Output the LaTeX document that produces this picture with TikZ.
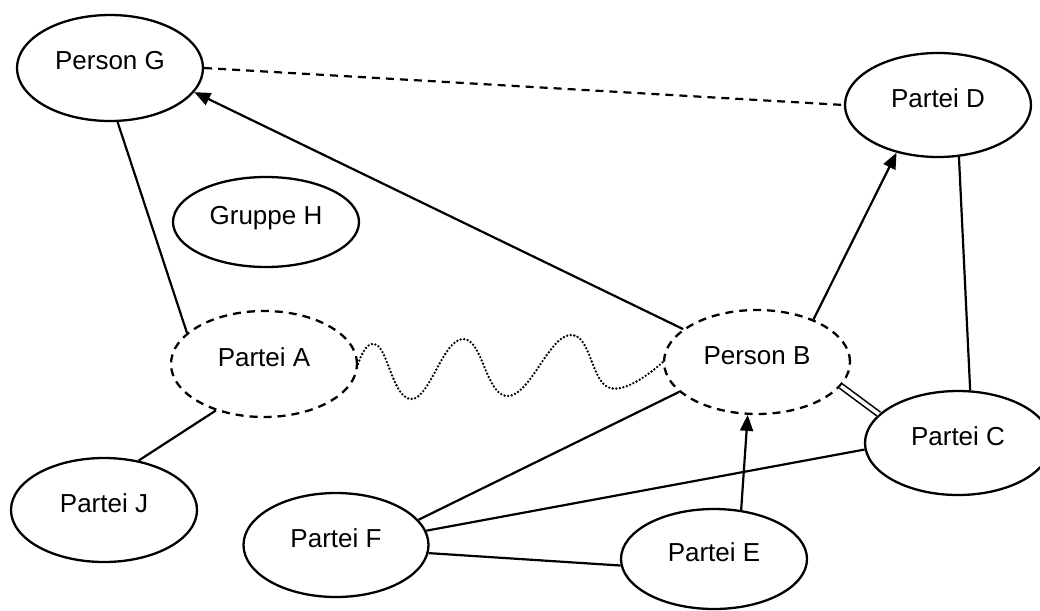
\documentclass[tikz,border=0pt]{standalone}
\usepackage{fontspec}
\setmainfont{Liberation Sans}
\usetikzlibrary{shapes.geometric,arrows.meta}
\begin{document}
\begin{tikzpicture}[x=1pt,y=-1pt,
  ent/.style={ellipse,draw=black,line width=2.3pt,inner sep=0pt,
    minimum width=186pt,minimum height=104pt,
    font=\fontsize{26}{31}\selectfont,text height=18pt,text depth=14pt},
  dashent/.style={ent,dash pattern=on 8pt off 6pt},
  conn/.style={draw=black,line width=2.2pt},
  arr/.style={conn,-{Triangle[length=16pt,width=13pt]}},
  dashconn/.style={conn,dash pattern=on 8pt off 6pt},
  dbl/.style={draw=black,line width=1.6pt,double=white,double distance=3.5pt},
  wave/.style={draw=black,line width=2.6pt,line cap=round,dash pattern=on 0pt off 3.6pt}
]
\useasboundingbox (0,0) rectangle (1040,610);
\node[ent,minimum height=106pt] (G) at (110,68) {Person G};
\node[ent] (D) at (938,105) {Partei D};
\node[ent,minimum height=90pt] (H) at (266,222) {Gruppe H};
\node[dashent,minimum height=106pt] (A) at (264,364) {Partei A};
\node[dashent] (B) at (757,362) {Person B};
\node[ent] (C) at (958,443) {Partei C};
\node[ent] (J) at (104,510) {Partei J};
\node[ent,minimum width=185pt] (F) at (336,545) {Partei F};
\node[ent,minimum height=100pt] (E) at (714,559) {Partei E};

\draw[conn] (G.-82) -- (A.158);
\draw[conn] (A.224) -- (J.55);
\draw[dashconn] (G.0) -- (D.180);
\draw[arr] (B.156) -- (G.-16);
\draw[arr] (B.37) -- (D.229);
\draw[conn] (D.-68) -- (C.77);
\draw[dbl] (B.-16) -- (C.160);
\draw[conn] (F.17) -- (B.201);
\draw[conn] (F.9) -- (C.184);
\draw[conn] (F.-5) -- (E.184);
\draw[arr] (E.61) -- (B.-100);
\draw[wave] plot[smooth,tension=0.75] coordinates {(A.0) (377,345) (412,399) (463,339) (508,396) (570,335) (610,388) (B.180)};
\end{tikzpicture}
\end{document}
